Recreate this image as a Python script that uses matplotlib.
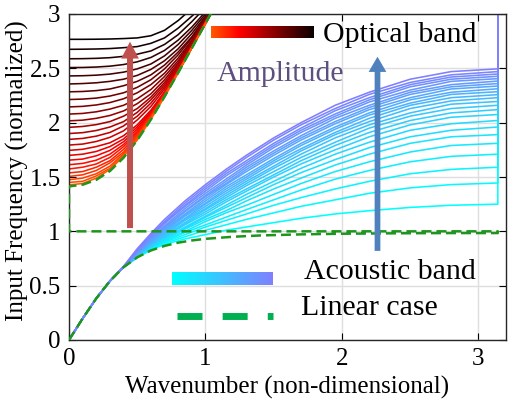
import numpy as np
import matplotlib
matplotlib.use("Agg")
import matplotlib.pyplot as plt
from matplotlib.patches import FancyArrow
from matplotlib.colors import LinearSegmentedColormap

plt.rcParams["font.family"] = ["Liberation Serif", "DejaVu Serif"]

# ---------- data ----------
# linear case: acoustic branch, then optical branch
k_lin_ac = [0, 0.1, 0.2, 0.3, 0.4, 0.5, 0.6, 0.7, 0.8, 0.9, 1.0, 1.2, 1.4, 1.7, 2.0, 2.4, 2.8, np.pi]
w_lin_ac = [0, 0.198, 0.383, 0.543, 0.670, 0.761, 0.824, 0.866, 0.896, 0.916, 0.931, 0.950, 0.962,
            0.972, 0.978, 0.982, 0.984, 0.984]
k_op = [0, 0.1, 0.2, 0.3, 0.4, 0.5, 0.6, 0.7, 0.8, 0.9, 1.0, 1.1]
w_lin_op = [1.414, 1.429, 1.474, 1.555, 1.678, 1.838, 2.029, 2.239, 2.460, 2.686, 2.914, 3.139]

# acoustic band, one row per amplitude (low -> high); below k=0.4 all follow the linear curve
k_ac = [0.4, 0.5, 0.6, 0.7, 0.85, 1.0, 1.15, 1.3, 1.5, 1.7, 1.95, 2.2, 2.5, 2.8, np.pi]
ac_rows = [
    [0.67, 0.76, 0.83, 0.88, 0.93, 0.97, 1.01, 1.04, 1.08, 1.12, 1.16, 1.19, 1.22, 1.24, 1.25],
    [0.67, 0.76, 0.83, 0.89, 0.95, 1.01, 1.06, 1.11, 1.17, 1.23, 1.29, 1.35, 1.40, 1.43, 1.445],
    [0.67, 0.76, 0.84, 0.90, 0.97, 1.04, 1.10, 1.16, 1.24, 1.31, 1.39, 1.46, 1.53, 1.57, 1.59],
    [0.67, 0.76, 0.84, 0.91, 0.99, 1.06, 1.13, 1.20, 1.29, 1.38, 1.48, 1.56, 1.64, 1.69, 1.71],
    [0.67, 0.77, 0.85, 0.91, 1.00, 1.09, 1.17, 1.24, 1.34, 1.44, 1.55, 1.64, 1.73, 1.79, 1.81],
    [0.67, 0.77, 0.85, 0.92, 1.02, 1.11, 1.19, 1.28, 1.39, 1.49, 1.61, 1.71, 1.81, 1.87, 1.89],
    [0.67, 0.77, 0.85, 0.93, 1.03, 1.13, 1.22, 1.31, 1.43, 1.54, 1.66, 1.77, 1.87, 1.93, 1.96],
    [0.67, 0.77, 0.86, 0.94, 1.04, 1.14, 1.24, 1.34, 1.46, 1.58, 1.71, 1.82, 1.93, 1.99, 2.02],
    [0.67, 0.77, 0.86, 0.95, 1.06, 1.16, 1.27, 1.37, 1.50, 1.62, 1.75, 1.87, 1.98, 2.05, 2.075],
    [0.67, 0.77, 0.87, 0.95, 1.07, 1.18, 1.29, 1.39, 1.52, 1.65, 1.79, 1.91, 2.02, 2.09, 2.12],
    [0.67, 0.78, 0.87, 0.96, 1.08, 1.20, 1.31, 1.42, 1.55, 1.68, 1.82, 1.95, 2.06, 2.13, 2.16],
    [0.67, 0.78, 0.88, 0.97, 1.10, 1.21, 1.33, 1.44, 1.58, 1.71, 1.86, 1.98, 2.09, 2.17, 2.195],
    [0.67, 0.78, 0.89, 0.98, 1.11, 1.23, 1.35, 1.46, 1.60, 1.74, 1.89, 2.01, 2.13, 2.20, 2.23],
    [0.67, 0.78, 0.89, 0.99, 1.12, 1.25, 1.37, 1.48, 1.63, 1.76, 1.91, 2.04, 2.16, 2.23, 2.258],
    [0.67, 0.79, 0.90, 1.00, 1.14, 1.26, 1.39, 1.50, 1.65, 1.79, 1.94, 2.07, 2.18, 2.26, 2.285],
    [0.67, 0.79, 0.91, 1.01, 1.15, 1.28, 1.41, 1.52, 1.67, 1.81, 1.96, 2.09, 2.21, 2.28, 2.312],
    [0.67, 0.80, 0.91, 1.02, 1.16, 1.30, 1.43, 1.55, 1.70, 1.84, 1.99, 2.12, 2.23, 2.31, 2.337],
    [0.67, 0.80, 0.92, 1.03, 1.18, 1.32, 1.44, 1.57, 1.72, 1.86, 2.01, 2.14, 2.26, 2.33, 2.36],
    [0.67, 0.81, 0.93, 1.04, 1.19, 1.33, 1.46, 1.59, 1.74, 1.88, 2.04, 2.16, 2.28, 2.35, 2.383],
    [0.67, 0.81, 0.94, 1.05, 1.21, 1.35, 1.48, 1.61, 1.77, 1.91, 2.06, 2.19, 2.30, 2.38, 2.405],
    [0.67, 0.82, 0.95, 1.07, 1.23, 1.37, 1.51, 1.63, 1.79, 1.93, 2.08, 2.21, 2.33, 2.40, 2.427],
    [0.673, 0.82, 0.96, 1.08, 1.24, 1.39, 1.53, 1.65, 1.81, 1.95, 2.11, 2.23, 2.35, 2.42, 2.448],
    [0.676, 0.83, 0.97, 1.09, 1.26, 1.41, 1.55, 1.68, 1.84, 1.98, 2.13, 2.26, 2.37, 2.44, 2.47],
    [0.679, 0.84, 0.98, 1.11, 1.28, 1.43, 1.57, 1.70, 1.86, 2.00, 2.16, 2.28, 2.40, 2.47, 2.495],
]

# optical band, one row per amplitude (low -> high), on the k_op grid
op_rows = [
    [1.428, 1.44, 1.49, 1.57, 1.69, 1.84, 2.03, 2.24, 2.46, 2.69, 2.91, 3.14],
    [1.45, 1.46, 1.51, 1.58, 1.70, 1.85, 2.04, 2.24, 2.46, 2.69, 2.91, 3.14],
    [1.475, 1.49, 1.53, 1.60, 1.715, 1.865, 2.045, 2.25, 2.465, 2.69, 2.91, 3.14],
    [1.505, 1.52, 1.56, 1.63, 1.73, 1.88, 2.05, 2.25, 2.47, 2.69, 2.91, 3.14],
    [1.538, 1.55, 1.59, 1.65, 1.755, 1.89, 2.06, 2.26, 2.47, 2.69, 2.92, 3.14],
    [1.574, 1.59, 1.62, 1.68, 1.78, 1.905, 2.07, 2.26, 2.47, 2.69, 2.92, 3.14],
    [1.613, 1.625, 1.655, 1.71, 1.80, 1.92, 2.08, 2.27, 2.47, 2.69, 2.92, 3.14],
    [1.655, 1.665, 1.695, 1.745, 1.825, 1.94, 2.09, 2.27, 2.475, 2.69, 2.92, 3.14],
    [1.699, 1.71, 1.735, 1.78, 1.85, 1.96, 2.10, 2.28, 2.48, 2.69, 2.92, 3.14],
    [1.745, 1.755, 1.78, 1.815, 1.88, 1.98, 2.115, 2.285, 2.48, 2.695, 2.92, 3.14],
    [1.794, 1.803, 1.827, 1.865, 1.925, 2.025, 2.15, 2.31, 2.495, 2.70, 2.92, 3.14],
    [1.846, 1.855, 1.876, 1.91, 1.97, 2.06, 2.18, 2.33, 2.51, 2.71, 2.92, 3.14],
    [1.90, 1.908, 1.928, 1.96, 2.01, 2.095, 2.21, 2.35, 2.52, 2.72, 2.93, 3.14],
    [1.957, 1.965, 1.982, 2.01, 2.06, 2.13, 2.235, 2.37, 2.535, 2.73, 2.93, 3.15],
    [2.017, 2.023, 2.04, 2.066, 2.108, 2.175, 2.265, 2.395, 2.55, 2.74, 2.94, 3.15],
    [2.079, 2.085, 2.10, 2.125, 2.16, 2.22, 2.305, 2.425, 2.57, 2.75, 2.94, 3.15],
    [2.145, 2.15, 2.163, 2.185, 2.22, 2.275, 2.35, 2.455, 2.595, 2.76, 2.95, 3.16],
    [2.213, 2.217, 2.226, 2.245, 2.275, 2.325, 2.395, 2.495, 2.625, 2.78, 2.96, 3.16],
    [2.284, 2.287, 2.295, 2.31, 2.34, 2.38, 2.44, 2.53, 2.65, 2.79, 2.97, 3.17],
    [2.356, 2.36, 2.367, 2.38, 2.40, 2.435, 2.49, 2.57, 2.68, 2.82, 2.98, 3.17],
    [2.43, 2.432, 2.437, 2.447, 2.465, 2.495, 2.54, 2.615, 2.72, 2.85, 3.0, 3.18],
    [2.507, 2.508, 2.512, 2.52, 2.535, 2.56, 2.60, 2.665, 2.76, 2.88, 3.02, 3.19],
    [2.588, 2.589, 2.592, 2.598, 2.61, 2.63, 2.66, 2.72, 2.81, 2.93, 3.06, 3.21],
    [2.675, 2.676, 2.678, 2.682, 2.69, 2.70, 2.73, 2.78, 2.87, 2.98, 3.10, 3.24],
    [2.767, 2.767, 2.768, 2.77, 2.774, 2.78, 2.80, 2.85, 2.94, 3.05, 3.17, 3.30],
]

x_ticks = [0, 1, 2, 3]
x_ticklabels = ["0", "1", "2", "3"]
y_ticks = [0, 0.5, 1, 1.5, 2, 2.5, 3]
y_ticklabels = ["0", "0.5", "1", "1.5", "2", "2.5", "3"]

fig = plt.figure(figsize=(5.1, 4.05), dpi=100)
ax = fig.add_axes([69 / 510, 65 / 405, 436.8 / 510, 326 / 405])

# acoustic: cyan (small amplitude) drawn first, purple last; vertical up to 3 at k = pi
n_ac = len(ac_rows)
for j, row in enumerate(ac_rows):
    ax.plot(k_lin_ac[:4] + k_ac + [np.pi], w_lin_ac[:4] + row + [3.0],
            color=plt.cm.cool(0.5 * j / (n_ac - 1)), lw=1.15, zorder=2)

# optical: black (large amplitude) first, orange last; vertical from 0 at k = 0
n_op = len(op_rows)
for j in range(n_op - 1, -1, -1):
    ax.plot([0] + k_op, [0] + op_rows[j],
            color=plt.cm.hot(0.5 * (1 - j / (n_op - 1))), lw=1.15, zorder=2)

# linear case: acoustic, jump at resonance, gap at k = 0, optical
ax.plot(k_lin_ac + [np.pi, 0] + k_op, w_lin_ac + [1.0, 1.0] + w_lin_op,
        color="#1e961e", lw=1.8, dashes=[4, 2], zorder=4)

ax.add_patch(FancyArrow(0.447, 1.03, 0, 1.715, width=0.044, head_width=0.13, head_length=0.155,
                        length_includes_head=True, color="#c0504d", lw=0, zorder=5))
ax.add_patch(FancyArrow(2.26, 0.82, 0, 1.787, width=0.042, head_width=0.13, head_length=0.14,
                        length_includes_head=True, color="#4f81bd", lw=0, zorder=5))

# hand-made legend
grad = np.linspace(0, 1, 256).reshape(1, -1)
cm_op = LinearSegmentedColormap.from_list("op", [plt.cm.hot(0.5 * (1 - s)) for s in np.linspace(0, 1, 64)])
cm_ac = LinearSegmentedColormap.from_list("ac", [plt.cm.cool(0.5 * s) for s in np.linspace(0, 1, 64)])
ax.imshow(grad, cmap=cm_op, extent=[0.325, 0.559, 0.925, 0.959], transform=ax.transAxes,
          aspect="auto", zorder=6)
ax.imshow(grad, cmap=cm_ac, extent=[0.236, 0.467, 0.169, 0.206], transform=ax.transAxes,
          aspect="auto", zorder=6)
ax.plot([0.247, 0.467], [0.074, 0.074], transform=ax.transAxes, color="#00b050", lw=5,
        dashes=[3.6, 2.9], dash_capstyle="butt", zorder=6)
ax.text(0.582, 0.936, "Optical band", transform=ax.transAxes, fontsize=21.5, va="center")
ax.text(0.339, 0.816, "Amplitude", transform=ax.transAxes, fontsize=21.5, va="center", color="#5e4f80")
ax.text(0.538, 0.209, "Acoustic band", transform=ax.transAxes, fontsize=21.5, va="center")
ax.text(0.531, 0.098, "Linear case", transform=ax.transAxes, fontsize=21.5, va="center")

ax.set_xlim(0, 3.2)
ax.set_ylim(0, 3)
ax.set_xticks(x_ticks, x_ticklabels)
ax.set_yticks(y_ticks, y_ticklabels)
ax.tick_params(direction="in", top=True, right=True, length=5, width=0.8, labelsize=18, pad=6)
ax.grid(True, color="0.87", lw=1.0)
ax.set_axisbelow(True)
for sp in ax.spines.values():
    sp.set_linewidth(1.0)
    sp.set_color("0.15")
ax.set_xlabel("Wavenumber (non-dimensional)", fontsize=18)
ax.set_ylabel("Input Frequency (normalized)", fontsize=18)
ax.xaxis.set_label_coords(0.5, -0.147)
ax.xaxis.label.set_va("center")
ax.yaxis.set_label_coords(-0.119, 0.52)
ax.yaxis.label.set_va("center")

fig.savefig("out.png", dpi=100)
